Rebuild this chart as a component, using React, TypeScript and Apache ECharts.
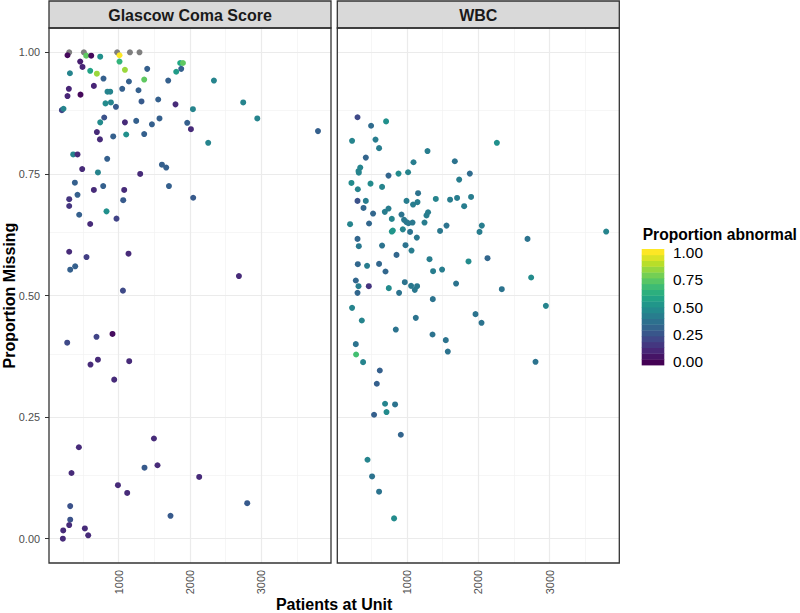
import React, { useEffect, useRef } from "react";
import * as echarts from "echarts";

// ---------- data ----------
const panelTitles = ["Glascow Coma Score", "WBC"];
const xTickValues = [1000, 2000, 3000];
const yTickValues = [0, 0.25, 0.5, 0.75, 1.0];
const xMinorValues = [500, 1500, 2500, 3500];
const yMinorValues = [0.125, 0.375, 0.625, 0.875];
const legendTicks = [0, 0.25, 0.5, 0.75, 1.0];

// Glascow Coma Score: proportion abnormal not available
const gcsNaX = [310, 515, 982, 1160, 1294];
const gcsNaY = [1.0, 1.0, 1.0, 1.0, 1.0];

// Glascow Coma Score: [patients, proportion missing, proportion abnormal]
const gcsX = [1014, 286, 548, 618, 744, 464, 1014, 496, 1864, 1902, 1878, 1402, 1808, 320, 604, 697, 1090, 790, 1360, 1146, 1696, 2336, 305, 655, 1052, 846, 884, 1280, 286, 468, 818, 894, 964, 1322, 1556, 1798, 2746, 207, 230, 2042, 800, 744, 1090, 1248, 1574, 1468, 2943, 1962, 2014, 3793, 697, 740, 926, 1108, 1360, 2256, 366, 426, 842, 492, 1608, 1668, 1304, 712, 389, 786, 1706, 426, 655, 1080, 310, 310, 1066, 2046, 450, 832, 972, 604, 310, 1140, 552, 324, 394, 2686, 1062, 916, 692, 282, 608, 712, 1150, 940, 1496, 445, 1364, 1546, 342, 2130, 992, 1122, 2802, 324, 1728, 324, 310, 226, 529, 576, 221];
const gcsY = [0.994, 0.994, 0.993, 0.993, 0.991, 0.981, 0.981, 0.970, 0.978, 0.978, 0.966, 0.966, 0.960, 0.957, 0.962, 0.956, 0.964, 0.946, 0.944, 0.940, 0.942, 0.942, 0.925, 0.931, 0.925, 0.919, 0.919, 0.922, 0.910, 0.913, 0.895, 0.897, 0.888, 0.899, 0.903, 0.893, 0.897, 0.881, 0.884, 0.883, 0.866, 0.856, 0.856, 0.859, 0.864, 0.852, 0.864, 0.855, 0.842, 0.838, 0.836, 0.821, 0.827, 0.831, 0.832, 0.814, 0.790, 0.790, 0.781, 0.760, 0.769, 0.763, 0.750, 0.753, 0.732, 0.725, 0.725, 0.707, 0.717, 0.717, 0.698, 0.684, 0.696, 0.701, 0.666, 0.673, 0.658, 0.647, 0.590, 0.586, 0.579, 0.553, 0.560, 0.540, 0.510, 0.421, 0.415, 0.403, 0.358, 0.368, 0.365, 0.327, 0.206, 0.188, 0.146, 0.151, 0.135, 0.127, 0.110, 0.094, 0.073, 0.067, 0.047, 0.039, 0.028, 0.017, 0.021, 0.007, 0.0];
const gcsAbn = [1.0, 0.02, 0.75, 0.02, 0.5, 0.08, 0.65, 0.1, 0.6, 0.75, 0.3, 0.3, 0.55, 0.45, 0.58, 0.85, 0.85, 0.3, 0.75, 0.3, 0.3, 0.45, 0.1, 0.1, 0.3, 0.45, 0.45, 0.3, 0.1, 0.02, 0.48, 0.45, 0.28, 0.28, 0.3, 0.12, 0.45, 0.2, 0.45, 0.45, 0.25, 0.48, 0.12, 0.3, 0.3, 0.3, 0.45, 0.3, 0.12, 0.3, 0.12, 0.12, 0.3, 0.5, 0.3, 0.45, 0.45, 0.12, 0.3, 0.12, 0.3, 0.3, 0.12, 0.45, 0.3, 0.3, 0.3, 0.3, 0.12, 0.12, 0.15, 0.15, 0.28, 0.28, 0.3, 0.5, 0.2, 0.12, 0.12, 0.12, 0.18, 0.3, 0.3, 0.12, 0.22, 0.03, 0.2, 0.22, 0.12, 0.12, 0.12, 0.12, 0.12, 0.12, 0.28, 0.12, 0.12, 0.12, 0.12, 0.12, 0.28, 0.25, 0.28, 0.25, 0.12, 0.12, 0.12, 0.12, 0.12];

// WBC
const wbcX = [310, 500, 710, 234, 562, 612, 2261, 426, 1290, 1094, 1672, 324, 348, 328, 225, 314, 492, 654, 744, 884, 1018, 1733, 1882, 1158, 310, 426, 996, 1150, 1088, 1406, 1606, 1704, 1900, 1803, 394, 528, 692, 744, 790, 926, 962, 996, 1024, 1080, 1276, 1298, 1248, 1556, 1466, 2050, 2018, 206, 472, 790, 804, 944, 1046, 1140, 3791, 2690, 310, 328, 654, 982, 1066, 856, 1318, 1864, 2130, 314, 444, 612, 702, 1368, 1494, 2741, 286, 324, 468, 310, 748, 972, 1060, 1112, 1144, 892, 1690, 2330, 1364, 234, 2947, 370, 1126, 1962, 2046, 846, 1360, 1546, 1574, 286, 290, 388, 2802, 622, 580, 696, 836, 716, 542, 916, 450, 514, 612, 822];
const wbcY = [0.8665, 0.849, 0.858, 0.818, 0.8205, 0.803, 0.814, 0.7835, 0.797, 0.774, 0.776, 0.756, 0.763, 0.7526, 0.7315, 0.7185, 0.730, 0.7233, 0.7465, 0.7506, 0.7534, 0.7383, 0.7506, 0.7103, 0.6945, 0.6945, 0.6945, 0.692, 0.687, 0.6986, 0.697, 0.7006, 0.7027, 0.6836, 0.680, 0.6685, 0.672, 0.6787, 0.6575, 0.6664, 0.6555, 0.6507, 0.6486, 0.650, 0.6647, 0.6712, 0.650, 0.6437, 0.6328, 0.6437, 0.6308, 0.6466, 0.648, 0.6314, 0.6335, 0.636, 0.6308, 0.619, 0.6314, 0.6164, 0.6164, 0.6014, 0.6027, 0.6034, 0.5924, 0.5835, 0.5747, 0.570, 0.5767, 0.5644, 0.561, 0.565, 0.5493, 0.550, 0.5533, 0.537, 0.5308, 0.5192, 0.5192, 0.5054, 0.5151, 0.5274, 0.5198, 0.5116, 0.5192, 0.5054, 0.5246, 0.513, 0.4925, 0.4746, 0.4787, 0.4486, 0.454, 0.4617, 0.4438, 0.430, 0.4198, 0.4082, 0.3848, 0.400, 0.3787, 0.363, 0.3637, 0.3458, 0.3185, 0.2774, 0.276, 0.2603, 0.2548, 0.2137, 0.1623, 0.128, 0.0966, 0.0417];
const wbcAbn = [0.22, 0.35, 0.5, 0.45, 0.42, 0.42, 0.5, 0.32, 0.42, 0.42, 0.38, 0.45, 0.45, 0.45, 0.48, 0.45, 0.48, 0.45, 0.32, 0.48, 0.45, 0.42, 0.35, 0.38, 0.25, 0.42, 0.42, 0.42, 0.42, 0.45, 0.42, 0.42, 0.42, 0.42, 0.33, 0.33, 0.42, 0.42, 0.45, 0.38, 0.4, 0.4, 0.4, 0.4, 0.42, 0.42, 0.42, 0.38, 0.4, 0.42, 0.42, 0.45, 0.33, 0.52, 0.52, 0.45, 0.38, 0.4, 0.45, 0.38, 0.33, 0.4, 0.38, 0.38, 0.42, 0.33, 0.42, 0.48, 0.33, 0.33, 0.42, 0.33, 0.33, 0.42, 0.42, 0.48, 0.33, 0.42, 0.15, 0.33, 0.48, 0.38, 0.4, 0.4, 0.4, 0.38, 0.38, 0.38, 0.38, 0.45, 0.45, 0.45, 0.38, 0.38, 0.38, 0.38, 0.38, 0.38, 0.38, 0.38, 0.7, 0.45, 0.38, 0.3, 0.3, 0.45, 0.38, 0.48, 0.3, 0.32, 0.45, 0.38, 0.38, 0.48];

const VIRIDIS = ["#440154", "#482576", "#414487", "#35608D", "#2A788E", "#21908C", "#22A884", "#43BF71", "#7AD151", "#BBDF27", "#FDE725"];

// ---------- helpers ----------
const FONT = "'Liberation Sans', Arial, Helvetica, sans-serif";
const X_MIN = 27;
const X_MAX = 3975;
const Y_MIN = -0.05;
const Y_MAX = 1.05;

const PANELS = [
  { left: 49, top: 28, width: 282, height: 535 },
  { left: 337.3, top: 28, width: 282, height: 535 },
];

function hexToRgb(h: string) {
  const n = parseInt(h.slice(1), 16);
  return [(n >> 16) & 255, (n >> 8) & 255, n & 255];
}
function viridisAt(t: number) {
  const p = Math.max(0, Math.min(1, t)) * (VIRIDIS.length - 1);
  const i = Math.min(Math.floor(p), VIRIDIS.length - 2);
  const f = p - i;
  const a = hexToRgb(VIRIDIS[i]);
  const b = hexToRgb(VIRIDIS[i + 1]);
  const c = a.map((v, k) => Math.round(v + (b[k] - v) * f));
  return `rgb(${c[0]},${c[1]},${c[2]})`;
}

function zip3(xs: number[], ys: number[], vs: number[]) {
  return xs.map((x, i) => [x, ys[i], vs[i]]);
}

function gridLines() {
  const major = { color: "#EBEBEB", width: 1.2, type: "solid" };
  const minor = { color: "#F2F2F2", width: 0.7, type: "solid" };
  return [
    ...xMinorValues.map((v) => ({ xAxis: v, lineStyle: minor })),
    ...yMinorValues.map((v) => ({ yAxis: v, lineStyle: minor })),
    ...xTickValues.map((v) => ({ xAxis: v, lineStyle: major })),
    ...yTickValues.map((v) => ({ yAxis: v, lineStyle: major })),
  ];
}

export default function App() {
  const ref = useRef<HTMLDivElement>(null);

  useEffect(() => {
    if (!ref.current) return;
    const chart = echarts.init(ref.current, undefined, { renderer: "svg" });

    const xAxes = PANELS.map((_, i) => ({
      type: "value",
      gridIndex: i,
      min: X_MIN,
      max: X_MAX,
      splitLine: { show: false },
      axisLine: { show: false },
      axisTick: {
        show: true,
        customValues: xTickValues,
        length: 4,
        lineStyle: { color: "#333333", width: 1 },
      },
      axisLabel: {
        show: true,
        customValues: xTickValues,
        rotate: 90,
        margin: 7,
        color: "#4D4D4D",
        fontSize: 10.9,
        fontFamily: FONT,
        formatter: (v: number) => String(Math.round(v)),
      },
    }));

    const yAxes = PANELS.map((_, i) => ({
      type: "value",
      gridIndex: i,
      min: Y_MIN,
      max: Y_MAX,
      splitLine: { show: false },
      axisLine: { show: false },
      axisTick: {
        show: i === 0,
        customValues: yTickValues,
        length: 4,
        lineStyle: { color: "#333333", width: 1 },
      },
      axisLabel: {
        show: i === 0,
        customValues: yTickValues,
        margin: 9,
        color: "#4D4D4D",
        fontSize: 10.9,
        fontFamily: FONT,
        formatter: (v: number) => v.toFixed(2),
      },
    }));

    const pointStyle = { symbol: "circle", symbolSize: 6 };

    const series: any[] = [
      ...PANELS.map((_, i) => ({
        type: "scatter",
        xAxisIndex: i,
        yAxisIndex: i,
        data: [],
        z: 1,
        silent: true,
        markLine: {
          z: 1,
          silent: true,
          symbol: ["none", "none"],
          label: { show: false },
          animation: false,
          data: gridLines(),
        },
      })),
      {
        type: "scatter",
        name: "gcs-na",
        xAxisIndex: 0,
        yAxisIndex: 0,
        z: 3,
        ...pointStyle,
        itemStyle: { color: "#7F7F7F", opacity: 1 },
        data: gcsNaX.map((x, i) => [x, gcsNaY[i]]),
      },
      {
        type: "scatter",
        name: "gcs",
        xAxisIndex: 0,
        yAxisIndex: 0,
        z: 3,
        ...pointStyle,
        itemStyle: { opacity: 1 },
        data: zip3(gcsX, gcsY, gcsAbn),
      },
      {
        type: "scatter",
        name: "wbc",
        xAxisIndex: 1,
        yAxisIndex: 1,
        z: 3,
        ...pointStyle,
        itemStyle: { opacity: 1 },
        data: zip3(wbcX, wbcY, wbcAbn),
      },
    ];

    // ----- decorations: strips, borders, titles, colourbar legend -----
    const graphic: any[] = [];
    PANELS.forEach((p, i) => {
      graphic.push({
        type: "rect",
        z: 100,
        shape: { x: p.left, y: 1, width: p.width, height: p.top - 1 },
        style: { fill: "#D9D9D9", stroke: "#333333", lineWidth: 1.3 },
      });
      graphic.push({
        type: "text",
        z: 101,
        x: p.left + p.width / 2,
        y: 15,
        style: {
          text: panelTitles[i],
          fill: "#1A1A1A",
          font: `bold 16px ${FONT}`,
          align: "center",
          verticalAlign: "middle",
        },
      });
      graphic.push({
        type: "rect",
        z: 100,
        shape: { x: p.left, y: p.top, width: p.width, height: p.height },
        style: { fill: "none", stroke: "#333333", lineWidth: 1.3 },
      });
    });

    graphic.push({
      type: "text",
      x: (PANELS[0].left + PANELS[1].left + PANELS[1].width) / 2,
      y: 604.5,
      style: {
        text: "Patients at Unit",
        fill: "#000000",
        font: `bold 16px ${FONT}`,
        align: "center",
        verticalAlign: "middle",
      },
    });
    graphic.push({
      type: "text",
      x: 9,
      y: PANELS[0].top + PANELS[0].height / 2,
      rotation: Math.PI / 2,
      style: {
        text: "Proportion Missing",
        fill: "#000000",
        font: `bold 16px ${FONT}`,
        align: "center",
        verticalAlign: "middle",
      },
    });

    // legend
    const barX = 641.7;
    const barTop = 249;
    const barH = 116;
    const barW = 22.6;
    const nbin = 20;
    graphic.push({
      type: "text",
      x: 642.7,
      y: 234,
      style: {
        text: "Proportion abnormal",
        fill: "#000000",
        font: `bold 15.6px ${FONT}`,
        align: "left",
        verticalAlign: "middle",
      },
    });
    for (let k = 0; k < nbin; k++) {
      const h = barH / nbin;
      graphic.push({
        type: "rect",
        shape: { x: barX, y: barTop + barH - (k + 1) * h, width: barW, height: h + 0.4 },
        style: { fill: viridisAt(k / (nbin - 1)), stroke: "none" },
      });
    }
    const v0 = barTop + barH - (barH / nbin) / 2 - 0.5;
    const v1 = barTop + (barH / nbin) / 2 + 0.5;
    legendTicks.forEach((t) => {
      graphic.push({
        type: "text",
        x: 673,
        y: v0 + (v1 - v0) * t,
        style: {
          text: t.toFixed(2),
          fill: "#000000",
          font: `15.4px ${FONT}`,
          align: "left",
          verticalAlign: "middle",
        },
      });
    });

    chart.setOption({
      animation: false,
      backgroundColor: "#FFFFFF",
      textStyle: { fontFamily: FONT },
      grid: PANELS.map((p) => ({
        left: p.left,
        top: p.top,
        width: p.width,
        height: p.height,
        show: false,
        containLabel: false,
      })),
      xAxis: xAxes,
      yAxis: yAxes,
      visualMap: {
        type: "continuous",
        show: false,
        min: 0,
        max: 1,
        dimension: 2,
        seriesIndex: [3, 4],
        inRange: { color: VIRIDIS },
      },
      series,
      graphic,
    });

    return () => chart.dispose();
  }, []);

  return (
    <div
      ref={ref}
      style={{ position: "fixed", left: 0, top: 0, width: 800, height: 613 }}
    />
  );
}
